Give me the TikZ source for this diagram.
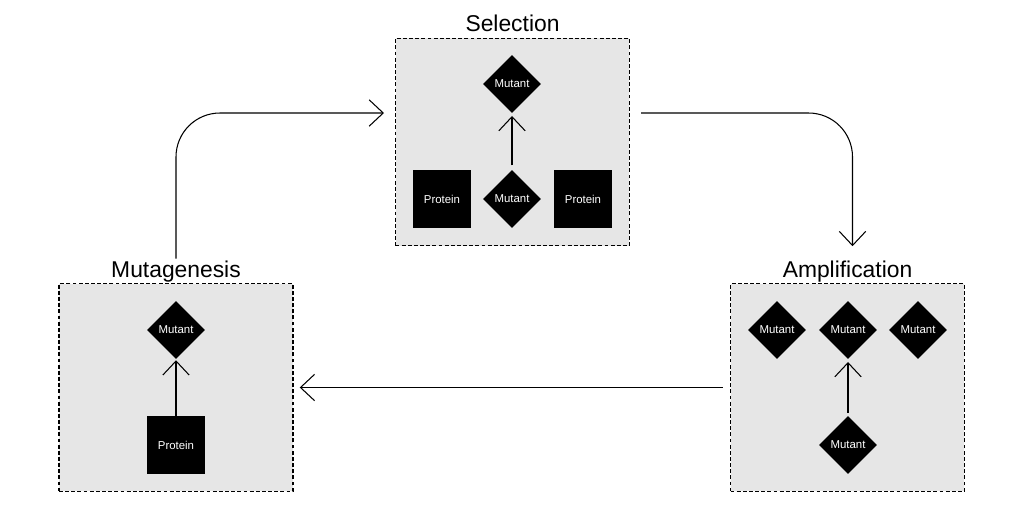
\documentclass[tikz,border=0pt]{standalone}
\usepackage{fontspec}
\setmainfont{Liberation Sans}
\usetikzlibrary{shapes.geometric,arrows.meta,positioning}
\definecolor{panelgray}{RGB}{230,230,230}

\tikzset{
  panel/.style={draw, line width=0.7pt, dash pattern=on 2.2pt off 1.3pt,
    fill=panelgray, minimum width=4.68cm, minimum height=4.15cm, inner sep=0pt},
  title/.style={font=\fontsize{13}{15}\selectfont, inner sep=1pt, text depth=3pt},
  protein/.style={fill=black, text=white, minimum size=1.16cm, inner sep=0pt,
    font=\fontsize{6.5}{8}\selectfont},
  mutant/.style={diamond, fill=black, text=white, minimum width=1.16cm,
    minimum height=1.16cm, inner sep=0pt, font=\fontsize{6.5}{8}\selectfont},
  flow/.style={line width=0.6pt, -{Straight Barb[length=8pt,width=15pt]}},
}

\begin{document}
\begin{tikzpicture}[x=0.02cm,y=-0.02cm]
\useasboundingbox (0,0) rectangle (1024,515);

% three panels
\node[panel] (selbox) at (512.5,142) {};
\node[panel] (mutbox) at (176,387.5) {};
\node[panel] (ampbox) at (847.5,387.5) {};
\node[title, above=-0.8pt of selbox] (sellbl) {Selection};
\node[title, above=-0.8pt of mutbox] (mutlbl) {Mutagenesis};
\node[title, above=-0.8pt of ampbox] (amplbl) {Amplification};

% selection
\node[mutant] (selm1) at (512,84) {Mutant};
\node[mutant] (selm2) at (512,199) {Mutant};
\node[protein] (selp1) at (442,199) {Protein};
\node[protein] (selp2) at (583,199) {Protein};
\draw[flow, shorten <=2.5pt, shorten >=1.5pt] (selm2.north) -- (selm1.south);

% mutagenesis
\node[mutant] (mutm) at (176,330) {Mutant};
\node[protein] (mutp) at (176,445) {Protein};
\draw[flow, shorten >=0.5pt] (mutp.north) -- (mutm.south);

% amplification
\node[mutant] (ampm1) at (777,330) {Mutant};
\node[mutant] (ampm2) at (848,330) {Mutant};
\node[mutant] (ampm3) at (918,330) {Mutant};
\node[mutant] (ampm4) at (848,445) {Mutant};
\draw[flow, shorten <=1.5pt, shorten >=1.5pt] (ampm4.north) -- (ampm2.south);

% cycle
\coordinate (selin) at (384,113);
\coordinate (selout) at (641,113);
\draw[flow, rounded corners=25] (mutlbl.north) |- (selin);
\draw[flow, rounded corners=25, shorten >=7pt] (selout) -| ([xshift=0.1cm]amplbl.north);
\draw[flow, shorten <=4pt, shorten >=3.5pt] (ampbox.west) -- (mutbox.east);
\end{tikzpicture}
\end{document}
